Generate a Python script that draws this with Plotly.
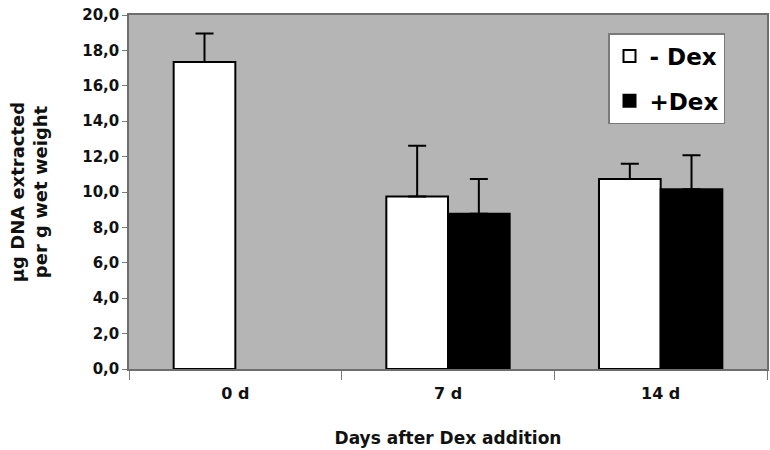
import plotly.graph_objects as go

categories = ["0 d", "7 d", "14 d"]
minus_dex = [17.35, 9.75, 10.73]
minus_dex_err = [1.61, 2.86, 0.87]
plus_dex = [None, 8.77, 10.15]
plus_dex_err = [None, 1.96, 1.93]
y_ticks = [0, 2, 4, 6, 8, 10, 12, 14, 16, 18, 20]

FONT = "DejaVu Sans"

fig = go.Figure()
fig.add_trace(go.Bar(
    name="- Dex", x=categories, y=minus_dex, legendgroup="a",
    marker=dict(color="white", line=dict(color="black", width=2)),
    error_y=dict(type="data", array=minus_dex_err, symmetric=False, arrayminus=[0, 0, 0],
                 color="black", thickness=2, width=9),
))
fig.add_trace(go.Bar(
    name="+Dex", x=categories, y=plus_dex, legendgroup="b",
    marker=dict(color="black", line=dict(color="black", width=2)),
    error_y=dict(type="data", array=plus_dex_err, symmetric=False, arrayminus=[0, 0, 0],
                 color="black", thickness=2, width=9),
))

fig.update_layout(
    width=770, height=450,
    margin=dict(l=129, r=3, t=15, b=81),
    paper_bgcolor="white", plot_bgcolor="#b5b5b5",
    barmode="group", bargap=0.42, bargroupgap=0,
    separators=",.",
    font=dict(family=FONT, color="#111111"),
    showlegend=True,
    legend=dict(
        x=(608 - 129) / 638, y=1 - (33 - 15) / 354, xanchor="left", yanchor="top",
        bgcolor="white", bordercolor="#7a7a7a", borderwidth=1.5,
        font=dict(family=FONT, size=23, color="black", weight="bold"),
        traceorder="grouped", tracegroupgap=12, itemwidth=30,
    ),
)
fig.update_xaxes(
    type="category", tickson="boundaries", ticks="outside", ticklen=9,
    tickcolor="#7a7a7a", tickwidth=1, ticklabelstandoff=9,
    showline=True, linecolor="#6e6e6e", linewidth=1.5, mirror=True,
    showgrid=False, automargin=False,
    tickfont=dict(family=FONT, size=16, color="#111111", weight="bold"),
    title=dict(text="Days after Dex addition", standoff=30,
               font=dict(family=FONT, size=17, color="#111111", weight="bold")),
)
fig.update_yaxes(
    range=[0, 20], tickvals=y_ticks, tickformat=".1f",
    ticks="outside", ticklen=5, tickcolor="#7a7a7a",
    showline=True, linecolor="#6e6e6e", linewidth=1.5, mirror=True,
    showgrid=False, zeroline=False, automargin=False,
    tickfont=dict(family=FONT, size=15, color="#111111", weight="bold"),
    title=dict(text="µg DNA extracted<br>per g wet weight", standoff=30,
               font=dict(family=FONT, size=18, color="#111111", weight="bold")),
)

fig.write_html("out.html", config={"displayModeBar": False},
               post_script="document.body.style.margin='0';")
